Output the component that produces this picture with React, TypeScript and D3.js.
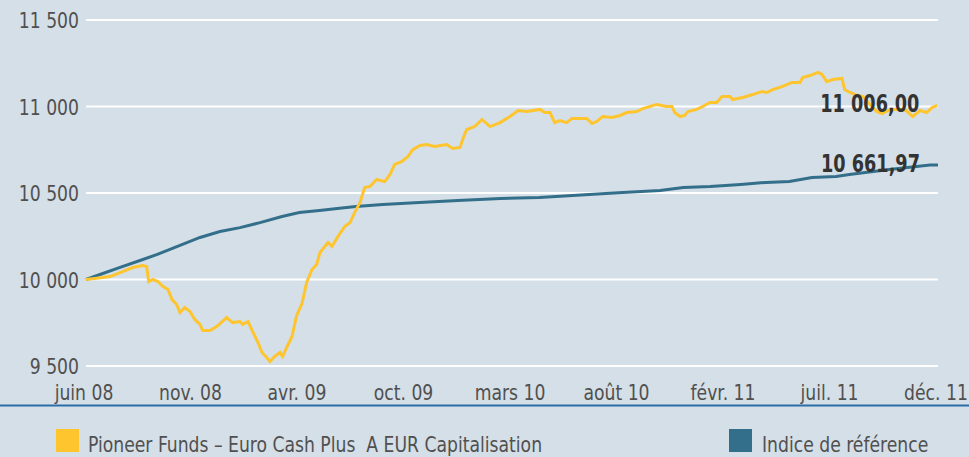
import React from 'react';
import * as d3 from 'd3';

// fund (yellow)
const fundDates = [
  '2008-06-01', '2008-06-14', '2008-07-07', '2008-07-26', '2008-08-10', '2008-08-25', '2008-08-31',
  '2008-09-03', '2008-09-09', '2008-09-17', '2008-09-24', '2008-10-02', '2008-10-08', '2008-10-15',
  '2008-10-20', '2008-10-27', '2008-11-04', '2008-11-11', '2008-11-19', '2008-11-23', '2008-12-04',
  '2008-12-14', '2008-12-29', '2009-01-07', '2009-01-18', '2009-01-22', '2009-01-30', '2009-02-06',
  '2009-02-14', '2009-02-20', '2009-02-27', '2009-03-04', '2009-03-11', '2009-03-19', '2009-03-23',
  '2009-03-29', '2009-04-06', '2009-04-13', '2009-04-21', '2009-04-28', '2009-05-06', '2009-05-13',
  '2009-05-18', '2009-05-30', '2009-06-05', '2009-06-14', '2009-06-24', '2009-07-02', '2009-07-09',
  '2009-07-17', '2009-07-24', '2009-08-01', '2009-08-11', '2009-08-23', '2009-08-31', '2009-09-07',
  '2009-09-18', '2009-09-27', '2009-10-04', '2009-10-15', '2009-10-25', '2009-11-06', '2009-11-24',
  '2009-12-03', '2009-12-14', '2009-12-18', '2009-12-24', '2010-01-05', '2010-01-16', '2010-01-28',
  '2010-02-12', '2010-02-27', '2010-03-11', '2010-03-24', '2010-04-13', '2010-04-20', '2010-04-28',
  '2010-05-05', '2010-05-13', '2010-05-23', '2010-05-31', '2010-06-22', '2010-06-30', '2010-07-07',
  '2010-07-16', '2010-07-30', '2010-08-11', '2010-08-21', '2010-09-05', '2010-09-14', '2010-09-25',
  '2010-10-05', '2010-10-20', '2010-10-28', '2010-11-01', '2010-11-09', '2010-11-16', '2010-11-21',
  '2010-12-04', '2010-12-13', '2010-12-24', '2011-01-03', '2011-01-11', '2011-01-23', '2011-01-27',
  '2011-02-11', '2011-02-26', '2011-03-12', '2011-03-19', '2011-03-28', '2011-04-12', '2011-04-26',
  '2011-05-08', '2011-05-12', '2011-05-23', '2011-06-04', '2011-06-10', '2011-06-17', '2011-06-26',
  '2011-07-10', '2011-07-14', '2011-07-22', '2011-08-01', '2011-08-10', '2011-08-21', '2011-08-31',
  '2011-09-08', '2011-09-20', '2011-10-05', '2011-10-14', '2011-10-24', '2011-11-04', '2011-11-14',
  '2011-11-22', '2011-11-30',
];
const fundValues = [
  10000, 10006, 10017, 10046, 10069, 10081, 10075,
  9988, 10000, 9988, 9960, 9942, 9884, 9855,
  9809, 9838, 9815, 9769, 9740, 9705, 9705,
  9728, 9780, 9751, 9757, 9740, 9757, 9699,
  9636, 9578, 9549, 9526, 9555, 9578, 9555,
  9607, 9671, 9792, 9861, 9983, 10058, 10087,
  10156, 10214, 10191, 10249, 10306, 10329, 10387,
  10445, 10532, 10538, 10578, 10566, 10607, 10665,
  10682, 10711, 10751, 10775, 10780, 10769, 10780,
  10757, 10763, 10809, 10867, 10884, 10925, 10884,
  10907, 10942, 10977, 10971, 10983, 10965, 10965,
  10907, 10919, 10907, 10931, 10931, 10902, 10913,
  10942, 10936, 10948, 10965, 10971, 10988, 11000,
  11012, 11000, 11000, 10965, 10942, 10948, 10971,
  10983, 11000, 11023, 11023, 11058, 11058, 11040,
  11052, 11069, 11087, 11081, 11098, 11116, 11139,
  11139, 11168, 11179, 11197, 11185, 11144, 11156,
  11162, 11098, 11081, 11064, 11058, 11012, 10971,
  10959, 10983, 10983, 10977, 10942, 10977, 10965,
  10994, 11006,
];

// benchmark (blue)
const indexDates = [
  '2008-06-01', '2008-06-22', '2008-07-21', '2008-08-21', '2008-09-16', '2008-10-20', '2008-11-19',
  '2008-12-19', '2009-01-18', '2009-02-17', '2009-03-22', '2009-04-17', '2009-05-17', '2009-06-13',
  '2009-07-11', '2009-08-20', '2009-10-14', '2009-12-11', '2010-02-13', '2010-04-12', '2010-06-26',
  '2010-08-15', '2010-10-10', '2010-11-14', '2010-12-24', '2011-02-08', '2011-03-18', '2011-04-22',
  '2011-05-26', '2011-07-01', '2011-07-21', '2011-09-19', '2011-11-19', '2011-12-01',
];
const indexValues = [
  10000, 10029, 10069, 10110, 10145, 10197, 10243,
  10277, 10300, 10329, 10364, 10387, 10399, 10410,
  10422, 10434, 10445, 10457, 10468, 10474, 10491,
  10503, 10514, 10532, 10538, 10549, 10561, 10566,
  10590, 10595, 10607, 10636, 10662, 10661.97,
];

const yTicks = [9500, 10000, 10500, 11000, 11500];
const xTickLabels = ['juin 08', 'nov. 08', 'avr. 09', 'oct. 09', 'mars 10', 'août 10', 'févr. 11', 'juil. 11', 'déc. 11'];
const legendLabels = ['Pioneer Funds \u2013 Euro Cash Plus\u00a0 A EUR Capitalisation', 'Indice de référence'];

const W = 969;
const H = 457;
const FONT = '"DejaVu Sans Condensed", "Liberation Sans", sans-serif';
const YELLOW = '#fec52e';
const BLUE = '#336f8a';
const GREY = '#505050';

const fr = d3.formatLocale({ decimal: ',', thousands: '\u00a0', grouping: [3], currency: ['', ' €'] });
const fmtTick = fr.format(',.0f');
const fmtEnd = fr.format(',.2f');

// the original uses a narrow font, squeeze the condensed one horizontally
function NarrowText({ x, y, sx = 0.87, anchor = 'start', size = 22, weight = 'normal', fill = GREY, children }: any) {
  return (
    <text transform={`translate(${x},${y}) scale(${sx},1)`} textAnchor={anchor} fontSize={size} fontWeight={weight} fill={fill}>
      {children}
    </text>
  );
}

export default function App() {
  const parse = d3.timeParse('%Y-%m-%d');
  const fund = fundDates.map((d, i) => ({ date: parse(d) as Date, value: fundValues[i] }));
  const index = indexDates.map((d, i) => ({ date: parse(d) as Date, value: indexValues[i] }));

  const x = d3.scaleTime()
    .domain([parse('2008-06-01') as Date, parse('2011-12-01') as Date])
    .range([86, 938]);
  const y = d3.scaleLinear().domain([9500, 11500]).range([366, 20]);
  const xLabels = d3.scalePoint().domain(xTickLabels).range([84, 936]);

  const line = d3.line<{ date: Date; value: number }>()
    .x(d => x(d.date))
    .y(d => y(d.value));

  const lastFund = fund[fund.length - 1];
  const lastIndex = index[index.length - 1];

  return (
    <svg width={W} height={H} style={{ position: 'absolute', left: 0, top: 0, fontFamily: FONT }}>
      <rect width={W} height={H} fill="#d5dfe7" />

      {/* gridlines + y labels */}
      {yTicks.map(t => (
        <g key={t}>
          <line x1={86} x2={938} y1={y(t)} y2={y(t)} stroke="#ffffff" strokeWidth={2} />
          <NarrowText x={79} y={y(t) + 8} anchor="end">{fmtTick(t)}</NarrowText>
        </g>
      ))}

      {/* x labels */}
      {xTickLabels.map(l => (
        <NarrowText key={l} x={xLabels(l)} y={400} anchor="middle">{l}</NarrowText>
      ))}
      <line x1={0} x2={W} y1={405.5} y2={405.5} stroke="#2a6ea8" strokeWidth={2} />

      <path d={line(index) || ''} fill="none" stroke={BLUE} strokeWidth={3} />
      <path d={line(fund) || ''} fill="none" stroke={YELLOW} strokeWidth={3} />

      <NarrowText x={x(lastFund.date) - 18} y={y(lastFund.value) + 7} anchor="end" size={24} sx={0.82} weight="bold" fill="#333333">
        {fmtEnd(lastFund.value)}
      </NarrowText>
      <NarrowText x={x(lastIndex.date) - 18} y={y(lastIndex.value) + 7} anchor="end" size={24} sx={0.82} weight="bold" fill="#333333">
        {fmtEnd(lastIndex.value)}
      </NarrowText>

      {/* legend */}
      <rect x={56} y={429} width={23} height={23} fill={YELLOW} />
      <NarrowText x={88} y={452}>{legendLabels[0]}</NarrowText>
      <rect x={729} y={429} width={23} height={23} fill={BLUE} />
      <NarrowText x={762} y={452}>{legendLabels[1]}</NarrowText>
    </svg>
  );
}
